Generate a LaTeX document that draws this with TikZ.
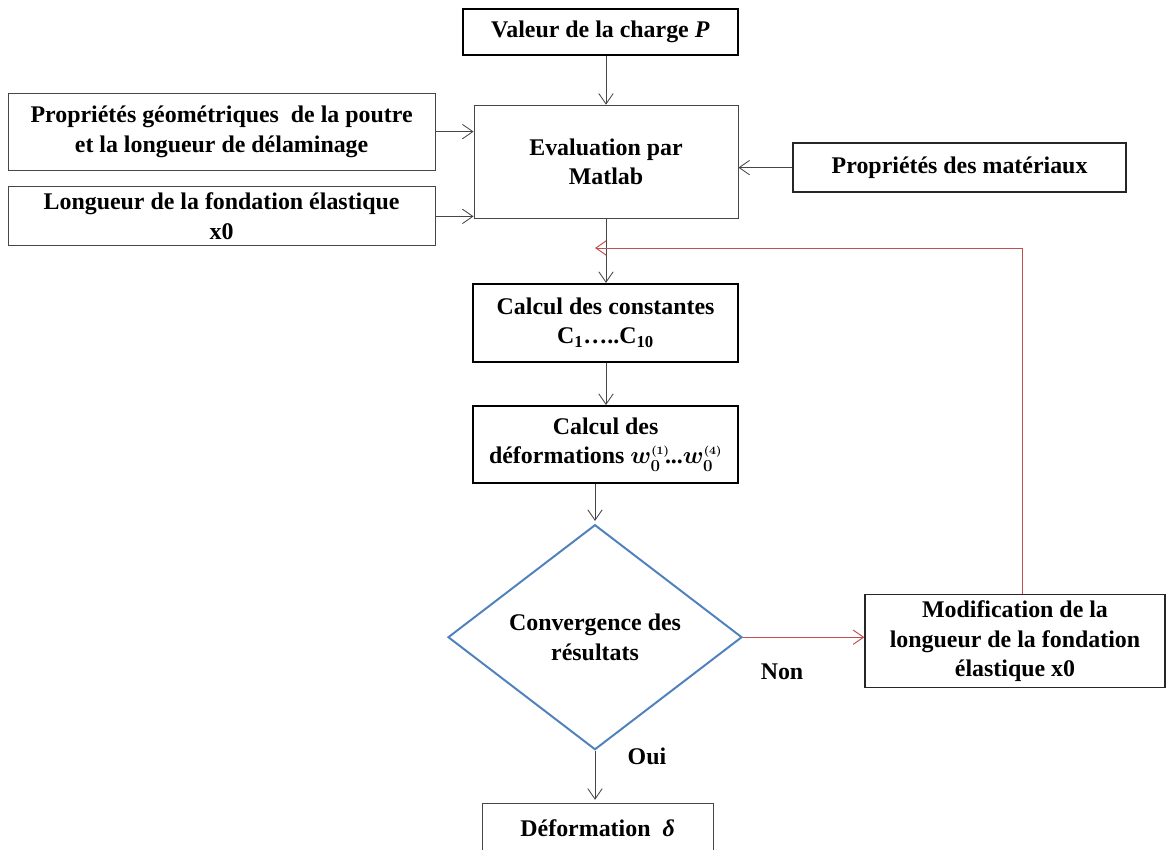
\documentclass[tikz,border=0pt]{standalone}
\usepackage{fontspec}
\setmainfont{Liberation Serif}
\usetikzlibrary{arrows.meta,shapes.geometric}
\definecolor{diamblue}{RGB}{79,129,189}
\definecolor{loopred}{RGB}{192,80,77}
\definecolor{edgegray}{RGB}{70,70,70}
\begin{document}
\begin{tikzpicture}[font=\bfseries\boldmath\fontsize{17}{21}\selectfont,
    box/.style={draw=edgegray, line width=0.6pt, align=center, inner sep=0pt},
    boldbox/.style={box, draw=black, line width=1.3pt},
    midbox/.style={box, draw=black!85, line width=0.9pt},
    test/.style={diamond, draw=diamblue, line width=1.4pt, align=center, inner sep=0pt},
    >={Straight Barb[length=2.6mm,width=3.6mm]}]
      \useasboundingbox (0,0) rectangle (29.325,-21.25);
      \node[boldbox, minimum width=6.875cm, minimum height=1.15cm] (valeur) at (15.01,-0.80)
        {Valeur de la charge \textit{P}};
      \node[box, minimum width=6.6cm, minimum height=2.825cm] (eval) at (15.15,-4.04)
        {Evaluation par\\Matlab};
      \node[box, minimum width=10.675cm, minimum height=1.925cm] (geom) at (5.54,-3.29)
        {Propriétés géométriques \ de la poutre\\et la longueur de délaminage};
      \node[box, minimum width=10.675cm, minimum height=1.475cm] (longueur) at (5.54,-5.41)
        {Longueur de la fondation élastique\\x0};
      \node[midbox, minimum width=8.325cm, minimum height=1.225cm] (mat) at (23.99,-4.19)
        {Propriétés des matériaux};
      \node[boldbox, minimum width=6.625cm, minimum height=1.95cm] (const) at (15.14,-8.07)
        {Calcul des constantes\\C\textsubscript{1}…..C\textsubscript{10}};
      \node[boldbox, minimum width=6.625cm, minimum height=1.925cm] (deform) at (15.14,-11.11)
        {Calcul des\\déformations $w_0^{\scriptscriptstyle(1)}\!$...$w_0^{\scriptscriptstyle(4)}$};
      \node[test, minimum width=7.35cm, minimum height=5.625cm] (conv) at (14.875,-15.93)
        {Convergence des\\résultats};
      \node[midbox, minimum width=7.5cm, minimum height=2.325cm] (modif) at (25.375,-16.03)
        {Modification de la\\longueur de la fondation\\élastique x0};
      \node[box, minimum width=5.775cm, minimum height=1.25cm] (delta) at (14.94,-20.7)
        {Déformation \ {\itshape δ}};
      \node (non) at (19.55,-16.8) {Non};
      \node (oui) at (16.175,-18.9) {Oui};
      \coordinate (ret) at (25.55,-6.2);
      \begin{scope}[->, draw=edgegray, line width=0.6pt]
        \draw (valeur.south -| eval.north) -- (eval.north);
        \draw (geom.east) -- (geom.east -| eval.west);
        \draw (longueur.east) -- (longueur.east -| eval.west);
        \draw (mat.west) -- (mat.west -| eval.east);
        \draw (eval.south) -- (eval.south |- const.north);
        \draw (const.south -| eval.south) -- (eval.south |- deform.north);
        \draw[shorten >=2pt] (deform.south -| conv.north) -- (conv.north);
        \draw[shorten >=2pt] (conv.south) -- (conv.south |- delta.north);
      \end{scope}
      \begin{scope}[->, draw=loopred, line width=0.7pt]
        \draw (conv.east) -- (conv.east -| modif.west);
        \draw (modif.north -| ret) -- (ret) -- (ret -| conv.north);
      \end{scope}
    \end{tikzpicture}
\end{document}
